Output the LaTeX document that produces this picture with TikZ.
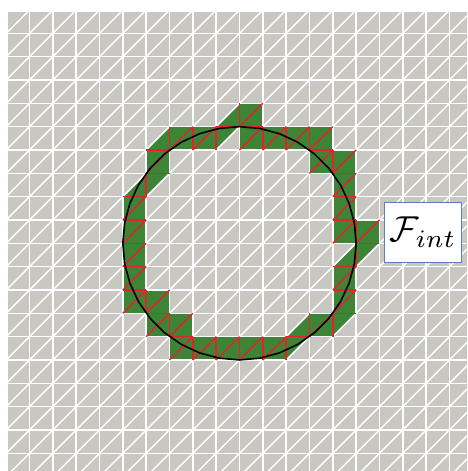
\documentclass[tikz,border=0pt]{standalone}
\usepackage{graphicx}
\definecolor{meshgrey}{HTML}{C9C7C1}
\definecolor{meshgreen}{HTML}{3D8437}
\definecolor{meshred}{HTML}{E8202A}
\definecolor{boxblue}{HTML}{5F7FB3}
\tikzset{
  wire/.style={white,line width=1.45pt},
  redwire/.style={meshred,line width=1.4pt},
  fcell/.style={fill=meshgreen},
  curve/.style={black,line width=1.6pt,line join=round},
  labelbox/.style={draw=boxblue,line width=0.9pt,fill=white,minimum width=77.5pt,minimum height=60pt,inner sep=0pt}
}
\begin{document}
\begin{tikzpicture}[x=1pt,y=-1pt]
\useasboundingbox (0,0) rectangle (467,471);
\clip (0,0) rectangle (467,471);
\begin{scope}[shift={(6.2,10)},x=23.33pt,y=-23.33pt]
  \fill[meshgrey] (0.09,0.09) rectangle (20,20);
  % white mesh
  \foreach \k in {1,...,20} {
    \draw[wire] (\k,0) -- (\k,20);
    \draw[wire] (0,\k) -- (20,\k);
  }
  \foreach \k in {1,...,20} \draw[wire] (0,\k) -- (\k,0);
  \foreach \k in {1,...,19} \draw[wire] (\k,20) -- (20,\k);
  % cells with both triangles in the set
  \foreach \i/\j in {10/4,7/5,8/5,10/5,11/5,12/5,13/5,6/6,13/6,14/6,14/7,14/8,14/9,15/9,14/11,14/12,13/13,11/14,10/14,9/14,8/14,7/14,7/13,6/13,6/12,5/12,5/11,5/10,5/9,5/8}
    \fill[fcell] (\i,\j) rectangle (\i+1,\j+1);
  % lower-right triangles
  \foreach \i/\j in {9/4,6/5,5/7,14/10,12/13} {
    \fill[fcell] (\i,\j+1) -- (\i+1,\j) -- (\i+1,\j+1) -- cycle;
    \draw[wire] (\i,\j+1) -- (\i+1,\j);
  }
  % upper-left triangles
  \foreach \i/\j in {9/5,6/7,14/13,12/14,15/10} {
    \fill[fcell] (\i,\j) -- (\i+1,\j) -- (\i,\j+1) -- cycle;
    \draw[wire] (\i,\j+1) -- (\i+1,\j);
  }
  % white outline of the green region
  \foreach \i/\y in {10/4,7/5,8/5,11/5,12/5,13/5,14/6,15/9,6/12,7/13,13/13,8/14,9/14,10/14,11/14,
                     7/6,8/6,10/6,11/6,12/6,13/7,14/10,5/13,6/14,13/14,7/15,8/15,9/15,10/15,11/15}
    \draw[wire] (\i,\y) -- (\i+1,\y);
  \foreach \x/\j in {10/5,6/6,13/6,14/7,5/8,14/8,5/9,14/9,5/10,5/11,14/11,5/12,14/12,6/13,7/14,
                     11/4,14/5,7/6,15/6,15/7,6/8,15/8,6/9,16/9,6/10,6/11,15/11,7/12,15/12,8/13}
    \draw[wire] (\x,\j) -- (\x,\j+1);
  % interior faces
  \foreach \i/\j in {10/4,7/5,8/5,10/5,11/5,12/5,13/5,6/6,13/6,14/6,14/7,14/8,14/9,15/9,14/11,14/12,13/13,11/14,10/14,9/14,8/14,7/14,7/13,6/13,6/12,5/12,5/11,5/10,5/9,5/8}
    \draw[redwire] (\i,\j+1) -- (\i+1,\j);
  \foreach \x/\j in {10/4,7/5,8/5,9/5,11/5,12/5,13/5,14/6,6/7,15/9,15/10,6/12,7/13,13/13,14/13,8/14,9/14,10/14,11/14,12/14}
    \draw[redwire] (\x,\j) -- (\x,\j+1);
  \foreach \i/\y in {5/8,5/9,5/10,5/11,5/12,6/6,6/7,6/13,7/14,9/5,10/5,12/14,13/6,14/7,14/8,14/9,14/11,14/12,14/13,15/10}
    \draw[redwire] (\i,\y) -- (\i+1,\y);
  % circle
  \draw[curve,domain=0:350,samples=36] plot ({10+5*cos(\x)},{10+5*sin(\x)}) -- cycle;
\end{scope}
\node[labelbox] (flabel) at (423,232) {\scalebox{3.6}{$\mathcal{F}_{int}$}};
\end{tikzpicture}
\end{document}
